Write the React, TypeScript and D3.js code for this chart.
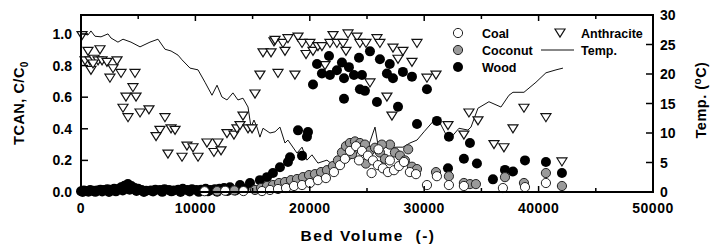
import * as d3 from "d3";

// [bed volume, C/C0]
const coalData: [number, number][] = [
  [10800, 0.005], [12600, 0.008], [14200, 0.006],
  [15820, 0.006], [16520, 0.013], [17220, 0.019], [17920, 0.025], [18620, 0.038],
  [19320, 0.044], [20010, 0.057], [20710, 0.075], [21410, 0.088], [22110, 0.126],
  [22640, 0.17], [23070, 0.21], [23510, 0.26], [24040, 0.29], [24560, 0.26],
  [25080, 0.23], [25520, 0.2], [25960, 0.17], [26390, 0.15], [26830, 0.126],
  [27360, 0.138], [27790, 0.164], [28230, 0.19], [28750, 0.126], [29280, 0.113],
  [24300, 0.2], [25400, 0.12], [26000, 0.27], [27000, 0.2],
  [30240, 0.044], [31110, 0.1], [32160, 0.044], [33470, 0.038], [36880, 0.025],
  [38810, 0.031], [40640, 0.057],
];

const coconutData: [number, number][] = [
  [11900, 0.006], [13400, 0.01],
  [15210, 0.013], [15730, 0.025], [16260, 0.038], [16780, 0.044], [17310, 0.057],
  [17830, 0.063], [18350, 0.075], [18880, 0.082], [19400, 0.094], [19930, 0.107],
  [20450, 0.113], [20980, 0.126], [21500, 0.138], [22020, 0.164], [22460, 0.2],
  [22810, 0.25], [23160, 0.29], [23510, 0.31], [23950, 0.32], [24380, 0.31],
  [24820, 0.3], [25260, 0.26], [25700, 0.28], [26130, 0.25], [26570, 0.21],
  [27010, 0.3], [27440, 0.25], [27880, 0.23], [28320, 0.2], [28930, 0.16],
  [23700, 0.24], [24900, 0.18], [26300, 0.3], [28600, 0.27],
  [29370, 0.145], [31030, 0.126], [32160, 0.1], [33470, 0.057], [34000, 0.05],
  [34520, 0.05], [37060, 0.094], [38720, 0.057], [40640, 0.12], [42040, 0.038],
];

const woodData: [number, number][] = [
  [0, 0.005], [250, 0.01], [500, 0.006], [800, 0.012], [1100, 0.008], [1400, 0.01],
  [1700, 0.015], [2000, 0.012], [2300, 0.018], [2600, 0.014], [2900, 0.02],
  [3200, 0.018], [3500, 0.03], [3800, 0.04], [4100, 0.05], [4400, 0.038],
  [4700, 0.025], [5000, 0.02], [5300, 0.012], [5700, 0.008], [6100, 0.01],
  [6500, 0.015], [6900, 0.012], [7300, 0.018], [7700, 0.012], [8100, 0.01],
  [8500, 0.015], [8900, 0.02], [9300, 0.012], [9700, 0.018], [10100, 0.012],
  [10500, 0.015], [10900, 0.02], [11300, 0.012], [11700, 0.018], [12100, 0.02],
  [150, 0.0], [650, 0.002], [1250, 0.001], [1850, 0.003], [2450, 0.0], [3050, 0.004],
  [3650, 0.01], [4250, 0.015], [4850, 0.006], [5500, 0.0], [6300, 0.003],
  [7100, 0.001], [7900, 0.004], [8700, 0.0], [9500, 0.003], [10300, 0.001],
  [11100, 0.004], [11900, 0.002], [12800, 0.006], [13500, 0.01], [14300, 0.02],
  [12500, 0.025], [13020, 0.03], [13900, 0.044], [14770, 0.057], [15640, 0.075],
  [16260, 0.094], [16780, 0.12], [17390, 0.157], [18090, 0.19], [18270, 0.22],
  [19320, 0.23], [18970, 0.39], [19840, 0.38], [19750, 0.35],
  [20280, 0.68], [20630, 0.81], [21060, 0.75], [21680, 0.86], [21760, 0.74],
  [22370, 0.77], [22810, 0.82], [22990, 0.72], [23420, 0.79], [23860, 0.74],
  [24300, 0.85], [24560, 0.74], [24380, 0.65], [24820, 0.64], [22990, 0.59],
  [25260, 0.89], [26130, 0.84], [26990, 0.81], [26740, 0.75], [27270, 0.72],
  [28140, 0.76], [28930, 0.73], [30240, 0.65], [25870, 0.57], [27710, 0.54],
  [29370, 0.43], [31110, 0.45], [32160, 0.35], [33470, 0.21], [32080, 0.15],
  [34000, 0.31], [34610, 0.18], [36010, 0.08], [37060, 0.14], [37760, 0.13],
  [38810, 0.2], [40640, 0.19], [42040, 0.12],
];

const anthraciteData: [number, number][] = [
  [87, 0.99], [612, 0.89], [1660, 0.9], [350, 0.83], [790, 0.83], [1140, 0.84],
  [1490, 0.83], [1840, 0.83], [2270, 0.82], [870, 0.77], [1050, 0.81], [2800, 0.78],
  [3150, 0.83], [2530, 0.72], [3500, 0.75], [4720, 0.75], [4540, 0.66], [3930, 0.6],
  [4810, 0.6], [3670, 0.53], [4110, 0.47], [5160, 0.5], [5940, 0.52], [7340, 0.47],
  [6900, 0.39], [6560, 0.35], [7870, 0.4], [8220, 0.39], [7600, 0.24], [8830, 0.22],
  [9260, 0.29], [9790, 0.28], [10230, 0.22], [11010, 0.31], [11620, 0.25],
  [11970, 0.31], [12240, 0.26], [12760, 0.37], [13370, 0.36], [13630, 0.4],
  [13900, 0.42], [14160, 0.48], [14600, 0.4], [14950, 0.4], [15210, 0.62],
  [15640, 0.74], [15910, 0.88], [16610, 0.88], [16870, 0.95], [17220, 0.75],
  [18700, 0.74], [16960, 0.96], [17650, 0.94], [18090, 0.97], [17830, 0.89],
  [18970, 0.98], [19320, 0.94], [20010, 0.94], [19670, 0.87], [20280, 0.89],
  [20710, 0.92], [21060, 0.92], [21330, 0.8], [21760, 0.94], [22030, 0.99],
  [22370, 0.94], [22900, 0.94], [23160, 0.89], [23340, 1.0], [24120, 0.98],
  [24380, 0.94], [24910, 0.94], [25260, 0.69], [25870, 0.97], [26130, 0.94],
  [27270, 0.91], [28140, 0.89], [27710, 0.84], [28930, 0.82], [29370, 0.94],
  [30240, 0.72], [31030, 0.74], [26740, 0.6], [27180, 0.48], [32080, 0.42],
  [33470, 0.36], [33910, 0.5], [34700, 0.45], [36100, 0.3], [36970, 0.28],
  [37760, 0.4], [38720, 0.53], [40640, 0.47], [42040, 0.19],
];

// [bed volume, temperature °C]
const tempData: [number, number][] = [
  [87, 26.9], [610, 26.6], [870, 27.3], [1220, 26.4], [1750, 26.3], [2360, 26.8],
  [2620, 26.1], [3230, 25.4], [3670, 25.9], [4370, 25.4], [5160, 24.6], [6030, 25.4],
  [6730, 25.9], [7340, 24.2], [7870, 23.9], [8480, 23.2], [8830, 22.4], [9530, 21.0],
  [10230, 20.7], [10840, 18.6], [11450, 16.4], [11890, 18.1], [12320, 16.1],
  [12760, 15.6], [13280, 16.8], [13720, 15.6], [14160, 15.9], [14600, 14.4],
  [14860, 11.0], [15120, 12.2], [15380, 11.0], [15640, 9.3], [15910, 10.8],
  [16520, 10.0], [16960, 10.2], [17390, 11.0], [17830, 8.3], [18090, 8.8],
  [18880, 6.6], [19320, 7.6], [19750, 5.4], [20190, 6.3], [20710, 4.9], [21500, 5.4],
  [22020, 4.6], [22640, 5.1], [23250, 5.1], [23690, 5.8], [24650, 7.6], [25080, 7.5],
  [25700, 11.0], [25960, 8.0], [26740, 7.5], [27620, 7.6], [28140, 7.6], [28750, 8.3],
  [29370, 8.8], [29980, 10.2], [31110, 12.7], [32160, 8.8], [33040, 10.8],
  [33820, 10.5], [34090, 11.0], [34700, 14.2], [35660, 15.3], [36710, 14.4],
  [37410, 16.4], [37760, 16.9], [38720, 16.9], [39770, 18.6], [40640, 20.2],
  [41520, 20.7], [42130, 21.0],
];

const xTicks = [0, 10000, 20000, 30000, 40000, 50000];
const yLeftTicks = [0, 0.2, 0.4, 0.6, 0.8, 1.0];
const yRightTicks = [0, 5, 10, 15, 20, 25, 30];

const W = 715;
const H = 250;
const font = "'Liberation Sans', Arial, sans-serif";

export default function App() {
  const x = d3.scaleLinear().domain([0, 50000]).range([81, 653]);
  const yL = d3.scaleLinear().domain([0, 1.12]).range([192, 15]);
  const yR = d3.scaleLinear().domain([0, 30]).range([192, 15]);

  const line = d3
    .line<[number, number]>()
    .x((d) => x(d[0]))
    .y((d) => yR(d[1]));

  const tri = "M-5,-4L5,-4L0,4Z";
  const minorX = d3.range(0, 50001, 5000);

  return (
    <svg
      width={W}
      height={H}
      style={{ position: "absolute", left: 0, top: 0, background: "#fff" }}
      fontFamily={font}
      fontWeight="bold"
    >
      {/* temperature line */}
      <path d={line(tempData) ?? ""} fill="none" stroke="#111" strokeWidth={1} />

      {/* anthracite */}
      {anthraciteData.map((d, i) => (
        <path
          key={"a" + i}
          d={tri}
          transform={`translate(${x(d[0])},${yL(d[1])})`}
          fill="#fff"
          stroke="#111"
          strokeWidth={1.2}
        />
      ))}

      {/* wood */}
      {woodData.map((d, i) => (
        <circle key={"w" + i} cx={x(d[0])} cy={yL(d[1])} r={5} fill="#000" />
      ))}

      {/* coconut */}
      {coconutData.map((d, i) => (
        <circle
          key={"n" + i}
          cx={x(d[0])}
          cy={yL(d[1])}
          r={4.6}
          fill="#9a9a9a"
          stroke="#222"
          strokeWidth={1}
        />
      ))}

      {/* coal */}
      {coalData.map((d, i) => (
        <circle
          key={"c" + i}
          cx={x(d[0])}
          cy={yL(d[1])}
          r={4.6}
          fill="#fff"
          stroke="#222"
          strokeWidth={1}
        />
      ))}

      {/* frame */}
      <rect x={81} y={15} width={572} height={177} fill="none" stroke="#000" strokeWidth={2} />

      {/* x ticks, inside on top and bottom */}
      {minorX.map((v) => (
        <g key={"xt" + v}>
          <line x1={x(v)} x2={x(v)} y1={15} y2={v % 10000 === 0 ? 21 : 19} stroke="#000" strokeWidth={1.5} />
          <line x1={x(v)} x2={x(v)} y1={192} y2={v % 10000 === 0 ? 186 : 188} stroke="#000" strokeWidth={1.5} />
        </g>
      ))}
      {xTicks.map((v) => (
        <text key={"xl" + v} x={x(v)} y={213} textAnchor="middle" fontSize={14} letterSpacing={0.5}>
          {v}
        </text>
      ))}

      {/* left axis */}
      {yLeftTicks.map((v) => (
        <g key={"yl" + v}>
          <line x1={81} x2={88} y1={yL(v)} y2={yL(v)} stroke="#000" strokeWidth={1.5} />
          <text x={72} y={yL(v) + 5} textAnchor="end" fontSize={14}>
            {v.toFixed(1)}
          </text>
        </g>
      ))}

      {/* right axis */}
      {yRightTicks.map((v) => (
        <g key={"yr" + v}>
          <line x1={646} x2={653} y1={yR(v)} y2={yR(v)} stroke="#000" strokeWidth={1.5} />
          <text x={660} y={yR(v) + 5} textAnchor="start" fontSize={14}>
            {v}
          </text>
        </g>
      ))}

      {/* axis titles */}
      <text transform="translate(24,103) rotate(-90)" textAnchor="middle" fontSize={14.5} letterSpacing={0.5}>
        TCAN, C/C<tspan fontSize={10} dy={4}>0</tspan>
      </text>
      <text transform="translate(706,100) rotate(-90)" textAnchor="middle" fontSize={14.5} letterSpacing={0.5}>
        Temp. (<tspan fontSize={10} dy={-5}>o</tspan>
        <tspan dy={5}>C)</tspan>
      </text>
      <text x={368} y={241} textAnchor="middle" fontSize={15.5} letterSpacing={1.5}>
        {"Bed Volume\u00a0\u00a0(-)"}
      </text>

      {/* legend */}
      <circle cx={458} cy={33} r={4.6} fill="#fff" stroke="#222" />
      <text x={482} y={38} fontSize={12.5}>Coal</text>
      <circle cx={458} cy={50} r={4.6} fill="#9a9a9a" stroke="#222" />
      <text x={482} y={55} fontSize={12.5}>Coconut</text>
      <circle cx={458} cy={67} r={5} fill="#000" />
      <text x={482} y={72} fontSize={12.5}>Wood</text>
      <path d={tri} transform="translate(560,33)" fill="#fff" stroke="#111" strokeWidth={1.2} />
      <text x={581} y={38} fontSize={12.5}>Anthracite</text>
      <line x1={541} x2={574} y1={50} y2={50} stroke="#111" strokeWidth={1} />
      <text x={581} y={55} fontSize={12.5}>Temp.</text>
    </svg>
  );
}
